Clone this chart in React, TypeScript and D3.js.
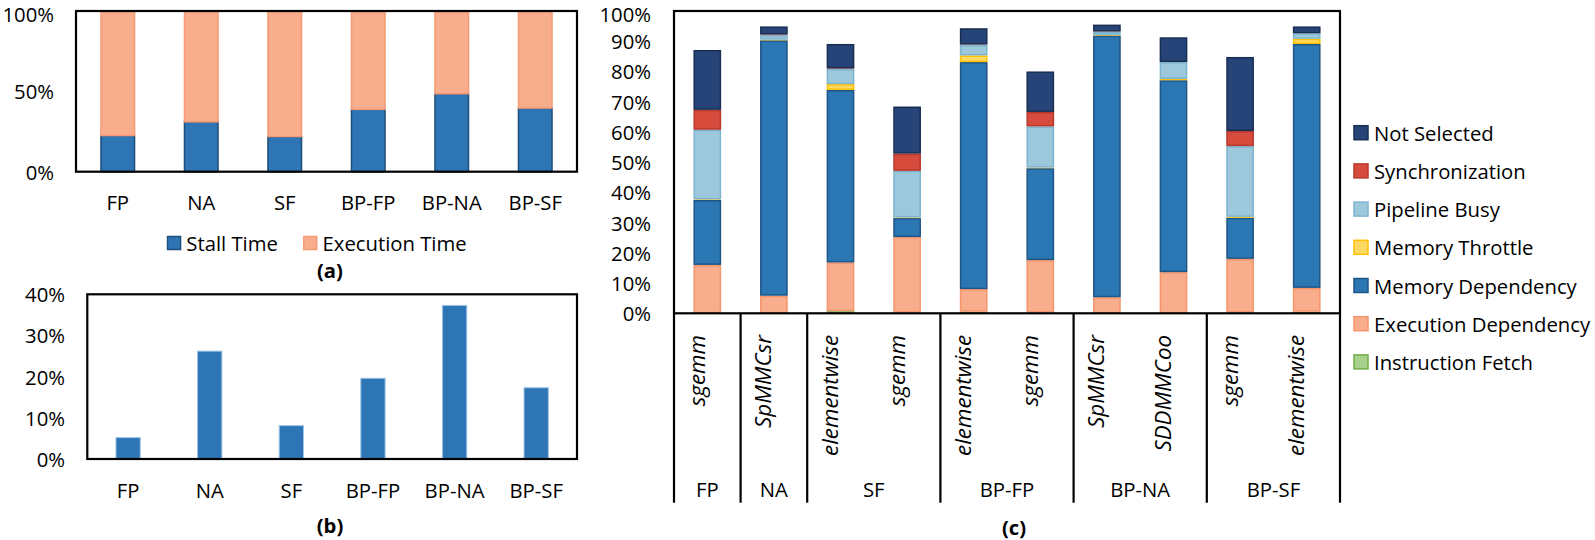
import React from "react";
import * as d3 from "d3";

const W = 1595;
const H = 540;
const FONT = "'Open Sans', Lato, sans-serif";
const FS = 20.3;
const FS_ROT = 22.3;

// Panel (a)
const catsA = ["FP", "NA", "SF", "BP-FP", "BP-NA", "BP-SF"];
const stallA = [22.5, 31.0, 21.9, 38.8, 48.5, 39.6];
const execA = [77.5, 69.0, 78.1, 61.2, 51.5, 60.4];
const ticksA = [0, 50, 100];

// Panel (b)
const catsB = ["FP", "NA", "SF", "BP-FP", "BP-NA", "BP-SF"];
const valsB = [5.2, 26.2, 8.1, 19.6, 37.3, 17.3];
const ticksB = [0, 10, 20, 30, 40];

// Panel (c)
const groupsC = ["FP", "NA", "SF", "BP-FP", "BP-NA", "BP-SF"];
const kernelsC = ["sgemm", "SpMMCsr", "elementwise", "sgemm", "elementwise", "sgemm", "SpMMCsr", "SDDMMCoo", "sgemm", "elementwise"];
const kernelGroupC = ["FP", "NA", "SF", "SF", "BP-FP", "BP-FP", "BP-NA", "BP-NA", "BP-SF", "BP-SF"];
const seriesC = ["Instruction Fetch", "Execution Dependency", "Memory Dependency", "Memory Throttle", "Pipeline Busy", "Synchronization", "Not Selected"];
const instrFetch = [0, 0, 0.7, 0.2, 0.5, 0.2, 0, 0, 0.3, 0.5];
const execDep = [16.0, 5.8, 16.1, 25.0, 7.5, 17.4, 5.3, 13.6, 17.7, 7.9];
const memDep = [21.5, 84.5, 57.1, 6.3, 75.1, 30.4, 86.6, 63.5, 13.6, 80.7];
const memThrottle = [0.2, 0.2, 1.9, 0.2, 2.2, 0.2, 0.2, 0.4, 0.3, 1.7];
const pipeBusy = [23.0, 1.5, 5.0, 15.4, 3.5, 13.6, 1.0, 5.6, 23.4, 1.8];
const sync = [6.6, 0.2, 0.2, 5.7, 0.1, 4.8, 0.1, 0, 5.0, 0];
const notSelected = [19.8, 2.7, 8.1, 15.6, 5.4, 13.4, 2.3, 8.2, 24.5, 2.3];
const ticksC = [0, 10, 20, 30, 40, 50, 60, 70, 80, 90, 100];

const fillC: Record<string, string> = {
  "Instruction Fetch": "#A9D18E",
  "Execution Dependency": "#F8AD8C",
  "Memory Dependency": "#2A77B4",
  "Memory Throttle": "#FFD966",
  "Pipeline Busy": "#9DC8DB",
  "Synchronization": "#D64B3C",
  "Not Selected": "#264478",
};
const strokeC: Record<string, string> = {
  "Instruction Fetch": "#70AD47",
  "Execution Dependency": "#F5956C",
  "Memory Dependency": "#1F5585",
  "Memory Throttle": "#FFC000",
  "Pipeline Busy": "#7DB5D0",
  "Synchronization": "#B8392C",
  "Not Selected": "#1A2E52",
};

export default function App() {
  // ---------- (a)
  const xA = d3.scaleBand<string>().domain(catsA).range([76, 577]).paddingInner(0.58).paddingOuter(0.29);
  const yA = d3.scaleLinear().domain([0, 100]).range([171.7, 11]);

  // ---------- (b)
  const xB = d3.scaleBand<string>().domain(catsB).range([87.3, 577]).paddingInner(0.69).paddingOuter(0.345);
  const yB = d3.scaleLinear().domain([0, 40]).range([459, 294.3]);

  // ---------- (c)
  const idx = kernelsC.map((_, i) => String(i));
  const xC = d3.scaleBand<string>().domain(idx).range([674, 1340]).paddingInner(0.584).paddingOuter(0.292);
  const yC = d3.scaleLinear().domain([0, 100]).range([313.3, 11]);
  const seriesVals: Record<string, number[]> = {
    "Instruction Fetch": instrFetch,
    "Execution Dependency": execDep,
    "Memory Dependency": memDep,
    "Memory Throttle": memThrottle,
    "Pipeline Busy": pipeBusy,
    "Synchronization": sync,
    "Not Selected": notSelected,
  };
  const rows = idx.map((k, i) => {
    const r: any = { key: k };
    seriesC.forEach((s) => (r[s] = seriesVals[s][i]));
    return r;
  });
  const stacked = d3.stack<any>().keys(seriesC)(rows);
  const stepC = xC.step();
  const groupBounds = groupsC.map((g) => {
    const members = kernelGroupC.map((kg, i) => (kg === g ? i : -1)).filter((i) => i >= 0);
    const first = members[0];
    const last = members[members.length - 1];
    const x0 = (xC(String(first)) as number) - stepC * xC.paddingOuter();
    const x1 = (xC(String(last)) as number) + xC.bandwidth() + stepC * xC.paddingOuter();
    return { g, x0, x1 };
  });

  const legendA = [
    { name: "Stall Time", fill: "#2E75B6", stroke: "#1F4E79", x: 166.8 },
    { name: "Execution Time", fill: "#F8AD8C", stroke: "#F59A74", x: 303 },
  ];
  const legendC = [...seriesC].reverse();
  const topSafe = (y: number) => Math.max(y, 13.5);

  return (
    <svg width={W} height={H} style={{ position: "absolute", left: 0, top: 0, background: "#fff" }} fontFamily={FONT}>
      {/* ===== Panel (a) ===== */}
      {catsA.map((c, i) => {
        const x = xA(c) as number;
        const bw = xA.bandwidth();
        return (
          <g key={"a" + c}>
            <rect x={x + 0.75} y={yA(stallA[i])} width={bw - 1.5} height={yA(0) - yA(stallA[i])} fill="#2E75B6" stroke="#1F4E79" strokeWidth={1.5} />
            <rect x={x + 0.75} y={yA(stallA[i] + execA[i]) + 0.75} width={bw - 1.5} height={yA(stallA[i]) - yA(stallA[i] + execA[i]) - 0.75} fill="#F8AD8C" stroke="#F59A74" strokeWidth={1.5} />
            <text x={x + bw / 2} y={201.7} fontSize={FS} textAnchor="middle" dominantBaseline="central">{c}</text>
          </g>
        );
      })}
      <rect x={76} y={11} width={577 - 76} height={171.7 - 11} fill="none" stroke="#000" strokeWidth={2.2} />
      {ticksA.map((t) => (
        <text key={"ta" + t} x={54} y={topSafe(yA(t))} fontSize={FS} textAnchor="end" dominantBaseline="central">{t + "%"}</text>
      ))}
      {legendA.map((l) => (
        <g key={l.name}>
          <rect x={l.x + 0.75} y={236.5} width={13} height={13} fill={l.fill} stroke={l.stroke} strokeWidth={1.5} />
          <text x={l.x + 19.5} y={243.2} fontSize={FS} dominantBaseline="central">{l.name}</text>
        </g>
      ))}
      <text x={330} y={270} fontSize={FS} fontWeight="bold" textAnchor="middle" dominantBaseline="central">(a)</text>

      {/* ===== Panel (b) ===== */}
      {catsB.map((c, i) => {
        const x = xB(c) as number;
        const bw = xB.bandwidth();
        return (
          <g key={"b" + c}>
            <rect x={x + 0.5} y={yB(valsB[i])} width={bw - 1} height={yB(0) - yB(valsB[i])} fill="#2E75B6" stroke="#9DC3E6" strokeWidth={1} />
            <text x={x + bw / 2} y={490} fontSize={FS} textAnchor="middle" dominantBaseline="central">{c}</text>
          </g>
        );
      })}
      <rect x={87.3} y={294.3} width={577 - 87.3} height={459 - 294.3} fill="none" stroke="#000" strokeWidth={2.2} />
      {ticksB.map((t) => (
        <text key={"tb" + t} x={65} y={yB(t)} fontSize={FS} textAnchor="end" dominantBaseline="central">{t + "%"}</text>
      ))}
      <text x={330} y={525} fontSize={FS} fontWeight="bold" textAnchor="middle" dominantBaseline="central">(b)</text>

      {/* ===== Panel (c) ===== */}
      {stacked.map((layer) => (
        <g key={layer.key}>
          {layer.map((d, i) => {
            const h = yC(d[0]) - yC(d[1]);
            if (h <= 0) return null;
            const x = xC(String(i)) as number;
            const bw = xC.bandwidth();
            return (
              <rect
                key={i}
                x={x + 0.75}
                y={yC(d[1]) + Math.min(0.75, h / 2)}
                width={bw - 1.5}
                height={Math.max(h - 1.5, 0.01)}
                fill={fillC[layer.key]}
                stroke={strokeC[layer.key]}
                strokeWidth={Math.min(1.5, h)}
              />
            );
          })}
        </g>
      ))}
      <rect x={674} y={11} width={1340 - 674} height={313.3 - 11} fill="none" stroke="#000" strokeWidth={2.2} />
      {ticksC.map((t) => (
        <text key={"tc" + t} x={651} y={topSafe(yC(t))} fontSize={FS} textAnchor="end" dominantBaseline="central">{t + "%"}</text>
      ))}
      {groupBounds.map((b, i) => (
        <g key={"gb" + b.g}>
          {i === 0 && <line x1={b.x0} x2={b.x0} y1={313.3} y2={502.7} stroke="#000" strokeWidth={2.2} />}
          <line x1={b.x1} x2={b.x1} y1={313.3} y2={502.7} stroke="#000" strokeWidth={2.2} />
          <text x={(b.x0 + b.x1) / 2} y={489} fontSize={FS} textAnchor="middle" dominantBaseline="central">{b.g}</text>
        </g>
      ))}
      {kernelsC.map((k, i) => {
        const cx = (xC(String(i)) as number) + xC.bandwidth() / 2 - 11;
        return (
          <text key={"k" + i} transform={`translate(${cx},335) rotate(-90)`} fontSize={FS_ROT} fontStyle="italic" textAnchor="end" dominantBaseline="central">{k}</text>
        );
      })}
      <text x={1014} y={526.7} fontSize={FS} fontWeight="bold" textAnchor="middle" dominantBaseline="central">(c)</text>

      {legendC.map((s, i) => (
        <g key={"lc" + s}>
          <rect x={1354} y={132.7 + i * 38.2 - 7} width={14} height={14} fill={fillC[s]} stroke={strokeC[s]} strokeWidth={1.5} />
          <text x={1374} y={132.7 + i * 38.2} fontSize={FS} dominantBaseline="central">{s}</text>
        </g>
      ))}
    </svg>
  );
}
